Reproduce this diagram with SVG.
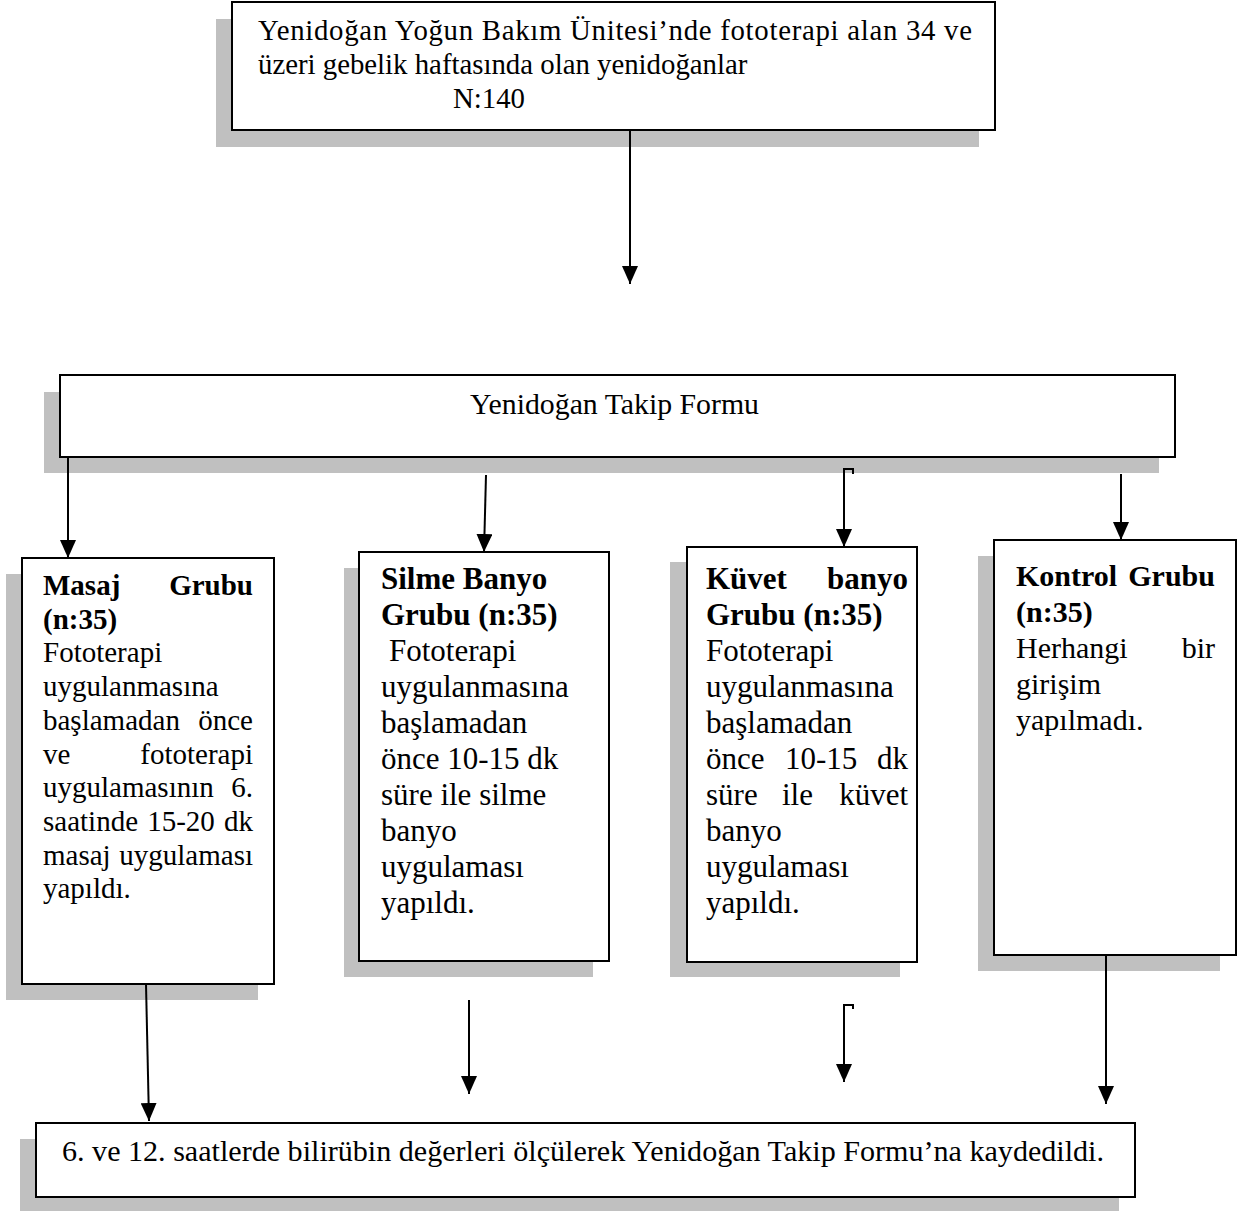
<svg xmlns="http://www.w3.org/2000/svg" width="1244" height="1211" viewBox="0 0 1244 1211">
<style>
.sh{fill:#c0c0c0}
.bx{fill:#fff;stroke:#000;stroke-width:2}
.t{font-family:"Liberation Serif","Times New Roman",serif;fill:#000}
.b{font-weight:bold}
.c{stroke:#000;stroke-width:2;fill:none}
.f29{font-size:29px}
.f31{font-size:31px}
.f30{font-size:30px}
</style>
<defs>
<marker id="ah" markerUnits="userSpaceOnUse" markerWidth="18" markerHeight="16" viewBox="0 0 18 16" refX="18" refY="8" orient="auto">
<path d="M0,0 L18,8 L0,16 z" fill="#000"/>
</marker>
</defs>
<rect width="1244" height="1211" fill="#fff"/>

<g id="top">
<rect class="sh" x="216" y="19" width="763" height="128"/>
<rect class="bx" x="232" y="2" width="763" height="128"/>
<text class="t" font-size="28.8" x="258" y="40" textLength="714" lengthAdjust="spacing">Yenidoğan Yoğun Bakım Ünitesi’nde fototerapi alan 34 ve</text>
<text class="t" font-size="28.8" x="258" y="74">üzeri gebelik haftasında olan yenidoğanlar</text>
<text class="t" font-size="28.8" x="453" y="108">N:140</text>
</g>

<g id="form">
<rect class="sh" x="44" y="392" width="1115" height="81"/>
<rect class="bx" x="60" y="375" width="1115" height="82"/>
<text class="t" font-size="29.8" x="470" y="414">Yenidoğan Takip Formu</text>
</g>

<g id="masaj" class="t f29">
<rect class="sh" x="6" y="574" width="252" height="426"/>
<rect class="bx" x="22" y="558" width="252" height="426"/>
<text class="b" x="43" y="595">Masaj</text>
<text class="b" x="253" y="595" text-anchor="end">Grubu</text>
<text class="b" x="43" y="628.7">(n:35)</text>
<text x="43" y="662.4">Fototerapi</text>
<text x="43" y="696.1">uygulanmasına</text>
<text x="43" y="729.8">başlamadan</text>
<text x="253" y="729.8" text-anchor="end">önce</text>
<text x="43" y="763.5">ve</text>
<text x="253" y="763.5" text-anchor="end">fototerapi</text>
<text x="43" y="797.2">uygulamasının</text>
<text x="253" y="797.2" text-anchor="end">6.</text>
<text x="43" y="830.9">saatinde</text>
<text x="147.2" y="830.9">15-20</text>
<text x="253" y="830.9" text-anchor="end">dk</text>
<text x="43" y="864.6">masaj</text>
<text x="253" y="864.6" text-anchor="end">uygulaması</text>
<text x="43" y="898.3">yapıldı.</text>
</g>

<g id="silme" class="t f31">
<rect class="sh" x="344" y="568" width="249" height="409"/>
<rect class="bx" x="359" y="552" width="250" height="409"/>
<text class="b" x="381" y="589">Silme Banyo</text>
<text class="b" x="381" y="625">Grubu (n:35)</text>
<text x="389" y="661">Fototerapi</text>
<text x="381" y="697">uygulanmasına</text>
<text x="381" y="733">başlamadan</text>
<text x="381" y="769">önce 10-15 dk</text>
<text x="381" y="805">süre ile silme</text>
<text x="381" y="841">banyo</text>
<text x="381" y="877">uygulaması</text>
<text x="381" y="913">yapıldı.</text>
</g>

<g id="kuvet" class="t f31">
<rect class="sh" x="670" y="562" width="230" height="415"/>
<rect class="bx" x="687" y="547" width="230" height="415"/>
<text class="b" x="706" y="589">Küvet</text>
<text class="b" x="908" y="589" text-anchor="end">banyo</text>
<text class="b" x="706" y="625">Grubu (n:35)</text>
<text x="706" y="661">Fototerapi</text>
<text x="706" y="697">uygulanmasına</text>
<text x="706" y="733">başlamadan</text>
<text x="706" y="769">önce</text>
<text x="785" y="769">10-15</text>
<text x="908" y="769" text-anchor="end">dk</text>
<text x="706" y="805">süre</text>
<text x="782" y="805">ile</text>
<text x="908" y="805" text-anchor="end">küvet</text>
<text x="706" y="841">banyo</text>
<text x="706" y="877">uygulaması</text>
<text x="706" y="913">yapıldı.</text>
</g>

<g id="kontrol" class="t f30">
<rect class="sh" x="978" y="556" width="242" height="415"/>
<rect class="bx" x="994" y="540" width="242" height="415"/>
<text class="b" x="1016" y="586">Kontrol</text>
<text class="b" x="1215" y="586" text-anchor="end">Grubu</text>
<text class="b" x="1016" y="622">(n:35)</text>
<text x="1016" y="658">Herhangi</text>
<text x="1215" y="658" text-anchor="end">bir</text>
<text x="1016" y="694">girişim</text>
<text x="1016" y="730">yapılmadı.</text>
</g>

<g id="result">
<rect class="sh" x="20" y="1139" width="1099" height="74"/>
<rect class="bx" x="36" y="1123" width="1099" height="74"/>
<text class="t" font-size="30.1" x="62" y="1161">6. ve 12. saatlerde bilirübin değerleri ölçülerek Yenidoğan Takip Formu’na kaydedildi.</text>
</g>

<g id="connectors">
<path class="c" d="M630,130 V284" marker-end="url(#ah)"/>
<path class="c" d="M68,457 V558" marker-end="url(#ah)"/>
<path class="c" d="M486,475 L484,552" marker-end="url(#ah)"/>
<path class="c" d="M853,474 V469 H844 V547" marker-end="url(#ah)"/>
<path class="c" d="M1121,474 V540" marker-end="url(#ah)"/>
<path class="c" d="M146,984 L149,1121" marker-end="url(#ah)"/>
<path class="c" d="M469,1000 V1094" marker-end="url(#ah)"/>
<path class="c" d="M853,1009 V1005 H844 V1082" marker-end="url(#ah)"/>
<path class="c" d="M1106,955 V1104" marker-end="url(#ah)"/>
</g>
</svg>
